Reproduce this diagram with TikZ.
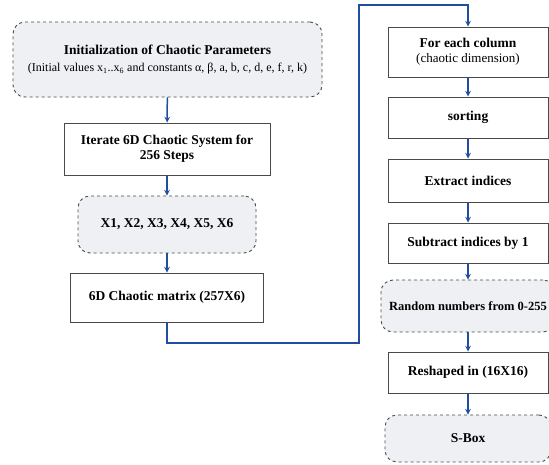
\documentclass[tikz,border=0pt]{standalone}
\usepackage{fontspec}
\setmainfont{Liberation Serif}
\usepackage{tikz}
\usetikzlibrary{arrows, positioning, calc}

\definecolor{boxline}{HTML}{4A4A4A}
\definecolor{softfill}{HTML}{EEF0F3}
\definecolor{flowblue}{HTML}{1F4E9E}

\begin{document}
\begin{tikzpicture}[x=1pt, y=-1pt,
            plain/.style={rectangle, draw=boxline, line width=1pt, fill=white, align=center, font=\fontsize{13.5}{15}\selectfont\bfseries, inner sep=2pt},
            soft/.style={rectangle, rounded corners=12pt, draw=boxline, dashed, line width=0.9pt, fill=softfill, align=center, font=\fontsize{13.5}{15}\selectfont\bfseries, inner sep=2pt},
            arrow/.style={->, draw=flowblue, line width=1.5pt, >=stealth}
        ]
            \useasboundingbox (0,0) rectangle (549,464);

% Left column
            \node[soft, minimum width=309pt, minimum height=75pt] (init) at (167.5,59.5) {Initialization of Chaotic Parameters\\[2pt]{\fontsize{12}{13}\selectfont\mdseries (Initial values x\textsubscript{1}..x\textsubscript{6} and constants α, β, a, b, c, d, e, f, r, k)}};
            \node[plain, minimum width=206pt, minimum height=52pt] (iter) at (167,149) {Iterate 6D Chaotic System for\\256 Steps};
            \node[soft, minimum width=178pt, minimum height=57pt] (xs) at (167,224.5) {X1, X2, X3, X4, X5, X6};
            \node[plain, minimum width=193pt, minimum height=49pt] (mat) at (167,297.5) {6D Chaotic matrix (257X6)};

% Right column
            \node[plain, minimum width=160pt, minimum height=50pt] (each) at (468,52) {For each column\\{\fontsize{13}{14}\selectfont\mdseries (chaotic dimension)}};
            \node[plain, minimum width=160pt, minimum height=41pt] (sort) at (468,117.5) {sorting};
            \node[plain, minimum width=160pt, minimum height=43pt] (extract) at (468,180.5) {Extract indices};
            \node[plain, minimum width=160pt, minimum height=40pt] (subtract) at (468,243) {Subtract indices by 1};
            \node[soft, minimum width=174pt, minimum height=52pt, font=\fontsize{12.5}{14}\selectfont\bfseries] (random) at (468,306) {Random numbers from 0-255};
            \node[plain, minimum width=160pt, minimum height=41pt] (reshape) at (468,372.5) {Reshaped in (16X16)};
            \node[soft, minimum width=166pt, minimum height=47pt] (sbox) at (468,438.5) {S-Box};

            \coordinate (bend) at (359,343);
            \coordinate (top) at (359,5);

            \draw[arrow] (init) -- (iter);
            \draw[arrow] (iter) -- (xs);
            \draw[arrow] (xs) -- (mat);
            \draw[arrow] (mat.south) |- (bend) -- (top) -| (each.north);
            \draw[arrow] (each) -- (sort);
            \draw[arrow] (sort) -- (extract);
            \draw[arrow] (extract) -- (subtract);
            \draw[arrow] (subtract) -- (random);
            \draw[arrow] (random) -- (reshape);
            \draw[arrow] (reshape) -- (sbox);

        \end{tikzpicture}
\end{document}
